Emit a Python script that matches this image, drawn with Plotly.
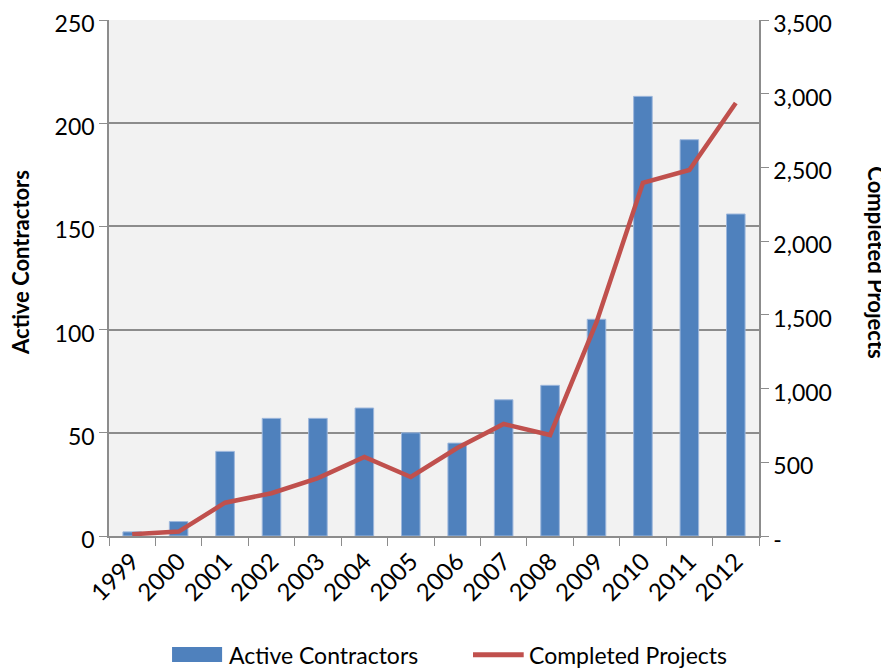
import plotly.graph_objects as go

# ── data ─────────────────────────────────────────────────────────────────────
years = ["1999", "2000", "2001", "2002", "2003", "2004", "2005",
         "2006", "2007", "2008", "2009", "2010", "2011", "2012"]
active_contractors = [2, 7, 41, 57, 57, 62, 50, 45, 66, 73, 105, 213, 192, 156]
completed_projects = [12, 30, 226, 290, 393, 536, 400, 597, 760, 685, 1450, 2395, 2483, 2937]

left_ticks = [0, 50, 100, 150, 200, 250]
right_ticks = [0, 500, 1000, 1500, 2000, 2500, 3000, 3500]
right_labels = ["-", "500", "1,000", "1,500", "2,000", "2,500", "3,000", "3,500"]

BLUE = "#4F81BD"
RED = "#C0504D"
GRID = "#8C8C8C"
FONT = "Lato"

fig = go.Figure()

fig.add_trace(go.Bar(
    x=years, y=active_contractors, name="Active Contractors",
    marker=dict(color=BLUE, line=dict(color="#9DB7DC", width=1)),
    width=0.4, showlegend=False,
))

fig.add_trace(go.Scatter(
    x=years, y=completed_projects, name="Completed Projects",
    mode="lines", line=dict(color=RED, width=4.5),
    yaxis="y2", showlegend=False,
))

# axis titles
fig.add_annotation(text="<b>Active Contractors</b>", xref="paper", yref="paper",
                   x=-0.137, y=0.531, xanchor="center", yanchor="middle",
                   textangle=-90, showarrow=False,
                   font=dict(family=FONT, size=22, color="black"))
fig.add_annotation(text="<b>Completed Projects</b>", xref="paper", yref="paper",
                   x=1.181, y=0.531, xanchor="center", yanchor="middle",
                   textangle=90, showarrow=False,
                   font=dict(family=FONT, size=22, color="black"))

# legend (drawn by hand to get Excel-style swatches)
fig.add_shape(type="rect", xref="paper", yref="paper",
              x0=0.097, x1=0.174, y0=-0.244, y1=-0.215,
              fillcolor=BLUE, line=dict(width=0))
fig.add_annotation(text="Active Contractors", xref="paper", yref="paper",
                   x=0.181, y=-0.230, xanchor="left", yanchor="middle",
                   showarrow=False,
                   font=dict(family=FONT, size=23, color="black"))
fig.add_shape(type="line", xref="paper", yref="paper",
              x0=0.560, x1=0.638, y0=-0.230, y1=-0.230,
              line=dict(color=RED, width=5))
fig.add_annotation(text="Completed Projects", xref="paper", yref="paper",
                   x=0.643, y=-0.230, xanchor="left", yanchor="middle",
                   showarrow=False,
                   font=dict(family=FONT, size=23, color="black"))

# the page body adds an 8px offset, so margins are trimmed on top/left
fig.update_layout(
    width=889, height=670,
    margin=dict(l=101, r=138, t=12, b=142),
    paper_bgcolor="white", plot_bgcolor="#F2F2F2",
    font=dict(family=FONT, size=24, color="black"),
    bargap=0.6,
    xaxis=dict(
        type="category", tickangle=-45, tickson="boundaries",
        ticks="outside", ticklen=8, tickcolor=GRID,
        showline=True, linecolor=GRID, linewidth=1.5,
        showgrid=False, tickfont=dict(size=24), automargin=False,
        ticklabeloverflow="allow",
    ),
    yaxis=dict(
        range=[0, 250], tickvals=left_ticks,
        ticks="outside", ticklen=8, tickcolor=GRID,
        showline=True, linecolor=GRID, linewidth=1.5,
        showgrid=True, gridcolor=GRID, gridwidth=1.5,
        zeroline=False, tickfont=dict(size=23), automargin=False,
        ticklabeloverflow="allow", ticklabelshift=4,
    ),
    yaxis2=dict(
        overlaying="y", side="right", range=[0, 3500],
        tickvals=right_ticks, ticktext=right_labels,
        ticks="outside", ticklen=8, tickcolor=GRID,
        showline=True, linecolor=GRID, linewidth=1.5,
        showgrid=False, zeroline=False, tickfont=dict(size=23),
        automargin=False, ticklabeloverflow="allow", ticklabelshift=4,
    ),
)

fig.write_html("out.html")
